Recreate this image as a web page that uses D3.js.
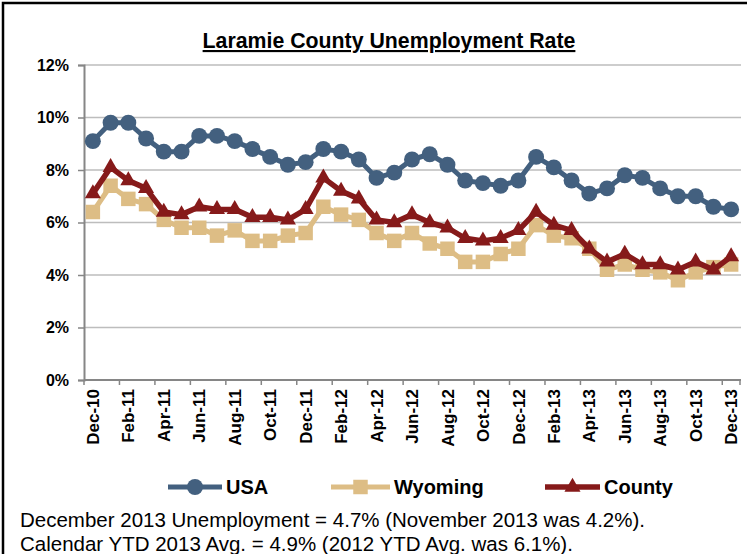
<!DOCTYPE html>
<html>
<head>
<meta charset="utf-8">
<script src="https://cdn.jsdelivr.net/npm/d3@7/dist/d3.min.js"></script>
<style>
  html, body { margin: 0; padding: 0; background: #fff; }
  svg { display: block; font-family: "Liberation Sans", Arial, sans-serif; }
</style>
</head>
<body>
<svg id="chart" width="747" height="554"></svg>
<script>
// Monthly periods, Dec 2010 through Dec 2013
const months = ["Dec-10","Jan-11","Feb-11","Mar-11","Apr-11","May-11","Jun-11","Jul-11","Aug-11","Sep-11","Oct-11","Nov-11",
  "Dec-11","Jan-12","Feb-12","Mar-12","Apr-12","May-12","Jun-12","Jul-12","Aug-12","Sep-12","Oct-12","Nov-12",
  "Dec-12","Jan-13","Feb-13","Mar-13","Apr-13","May-13","Jun-13","Jul-13","Aug-13","Sep-13","Oct-13","Nov-13","Dec-13"];

// Unemployment rates (%)
const usa = [9.1,9.8,9.8,9.2,8.7,8.7,9.3,9.3,9.1,8.8,8.5,8.2,
  8.3,8.8,8.7,8.4,7.7,7.9,8.4,8.6,8.2,7.6,7.5,7.4,
  7.6,8.5,8.1,7.6,7.1,7.3,7.8,7.7,7.3,7.0,7.0,6.6,6.5];
const wyoming = [6.4,7.4,6.9,6.7,6.1,5.8,5.8,5.5,5.7,5.3,5.3,5.5,
  5.6,6.6,6.3,6.1,5.6,5.3,5.6,5.2,5.0,4.5,4.5,4.8,
  5.0,5.9,5.5,5.4,5.0,4.2,4.4,4.2,4.1,3.8,4.1,4.3,4.4];
const county = [7.1,8.1,7.6,7.3,6.4,6.3,6.6,6.5,6.5,6.2,6.2,6.1,
  6.5,7.7,7.2,6.9,6.1,6.0,6.3,6.0,5.8,5.4,5.3,5.4,
  5.7,6.4,5.9,5.7,5.0,4.5,4.8,4.4,4.4,4.2,4.5,4.2,4.7];

const yTicks = [0, 2, 4, 6, 8, 10, 12];
const xLabels = months.filter((m, i) => i % 2 === 0);

const titleText = "Laramie County Unemployment Rate";
const notes = [
  "December 2013 Unemployment = 4.7% (November 2013 was 4.2%).",
  "Calendar YTD 2013 Avg. = 4.9% (2012 YTD Avg. was 6.1%)."
];

const series = [
  { name: "USA", values: usa, color: "#43607F", symbol: d3.symbolCircle, size: 200, lw: 5 },
  { name: "Wyoming", values: wyoming, color: "#DDBD85", symbol: d3.symbolSquare, size: 210, lw: 5 },
  { name: "County", values: county, color: "#861A1A", symbol: d3.symbolTriangle, size: 112, lw: 5.5 }
];

const svg = d3.select("#chart");

// Outer frame
svg.append("rect")
  .attr("x", 3).attr("y", 3).attr("width", 780).attr("height", 600)
  .attr("fill", "none").attr("stroke", "#000").attr("stroke-width", 2.5);

const x = d3.scaleBand().domain(months).range([84, 740]).padding(0);
const y = d3.scaleLinear().domain([0, 12]).range([380, 65]);
const cx = m => x(m) + x.bandwidth() / 2;

// Title
svg.append("text")
  .attr("x", 389).attr("y", 48)
  .attr("text-anchor", "middle")
  .attr("font-size", 21.3).attr("font-weight", "bold")
  .attr("text-decoration", "underline")
  .text(titleText);

// Gridlines
svg.append("g").selectAll("line")
  .data(yTicks.filter(t => t > 0))
  .join("line")
  .attr("x1", 84).attr("x2", 741)
  .attr("y1", d => y(d)).attr("y2", d => y(d))
  .attr("stroke", "#BDBDBD").attr("stroke-width", 1.5);

// Y axis
const yAxis = svg.append("g")
  .attr("transform", "translate(84,0)")
  .call(d3.axisLeft(y).tickValues(yTicks).tickFormat(d => d + "%").tickSize(6).tickPadding(9));
yAxis.select(".domain").attr("stroke", "#868686").attr("stroke-width", 2);
yAxis.selectAll(".tick line").attr("stroke", "#868686").attr("stroke-width", 1.5);
yAxis.selectAll(".tick text")
  .attr("font-family", "Liberation Sans, Arial, sans-serif")
  .attr("font-size", 16).attr("font-weight", "bold").attr("fill", "#000");

// X axis: baseline, ticks every two months, labels rotated
const xg = svg.append("g");
xg.append("line")
  .attr("x1", 84).attr("x2", 741).attr("y1", y(0)).attr("y2", y(0))
  .attr("stroke", "#868686").attr("stroke-width", 2);
const tickPos = months.filter((m, i) => i % 2 === 0).map(m => x(m)).concat([x.range()[1]]);
xg.selectAll("line.tk").data(tickPos).join("line")
  .attr("class", "tk")
  .attr("x1", d => d).attr("x2", d => d)
  .attr("y1", y(0)).attr("y2", y(0) + 5)
  .attr("stroke", "#868686").attr("stroke-width", 1.5);
xg.selectAll("text").data(xLabels).join("text")
  .attr("transform", d => `translate(${cx(d)},${y(0) + 9}) rotate(-90)`)
  .attr("text-anchor", "end")
  .attr("dy", "0.36em")
  .attr("font-size", 17).attr("font-weight", "bold")
  .text(d => d);

// Series lines and markers
const line = d3.line().x((d, i) => cx(months[i])).y(d => y(d));
series.forEach(s => {
  const g = svg.append("g");
  g.append("path")
    .datum(s.values)
    .attr("d", line)
    .attr("fill", "none")
    .attr("stroke", s.color)
    .attr("stroke-width", s.lw)
    .attr("stroke-linejoin", "round");
  g.selectAll("path.mk").data(s.values).join("path")
    .attr("class", "mk")
    .attr("d", d3.symbol().type(s.symbol).size(s.size))
    .attr("transform", (d, i) => `translate(${cx(months[i])},${y(d)})`)
    .attr("fill", s.color);
});

// Legend
const legendItems = [
  { s: series[0], x0: 168, x1: 222 },
  { s: series[1], x0: 331, x1: 390 },
  { s: series[2], x0: 545, x1: 600 }
];
const lg = svg.append("g");
legendItems.forEach(it => {
  const ly = 487;
  lg.append("line")
    .attr("x1", it.x0).attr("x2", it.x1).attr("y1", ly).attr("y2", ly)
    .attr("stroke", it.s.color).attr("stroke-width", it.s.lw);
  lg.append("path")
    .attr("d", d3.symbol().type(it.s.symbol).size(it.s.size))
    .attr("transform", `translate(${(it.x0 + it.x1) / 2},${ly})`)
    .attr("fill", it.s.color);
  lg.append("text")
    .attr("x", it.x1 + 4).attr("y", ly).attr("dy", "0.36em")
    .attr("font-size", 20).attr("font-weight", "bold")
    .text(it.s.name);
});

// Notes beneath the chart
svg.append("g").selectAll("text").data(notes).join("text")
  .attr("x", 20).attr("y", (d, i) => 527 + i * 24)
  .attr("font-size", 20.5)
  .text(d => d);
</script>
</body>
</html>
